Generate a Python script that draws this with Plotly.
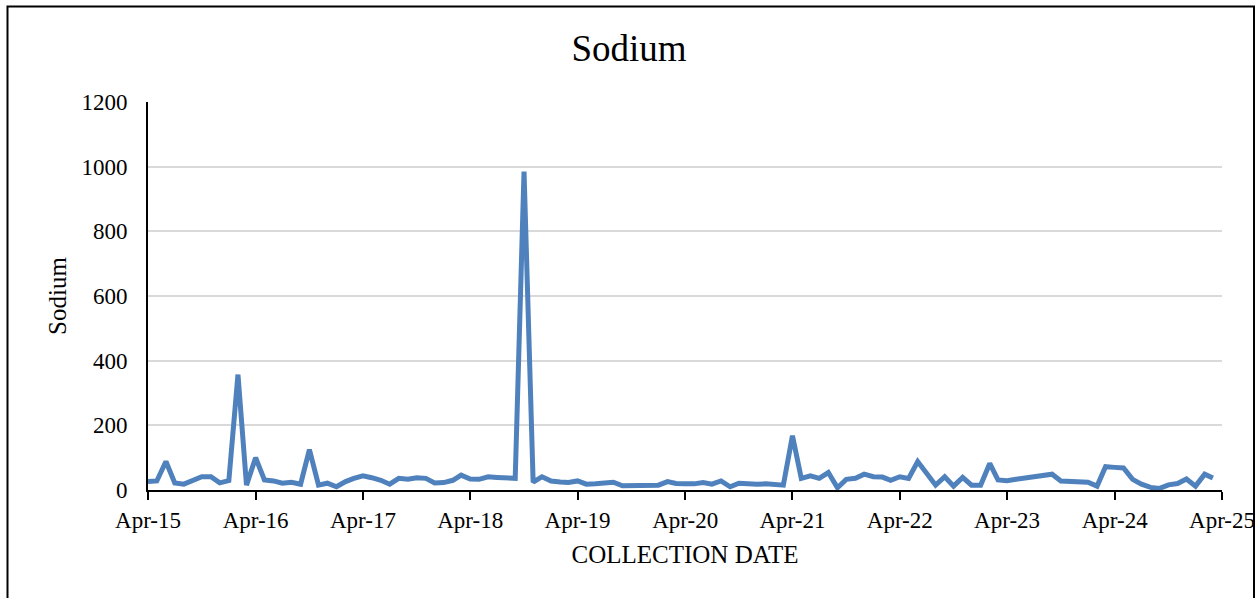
import pandas as pd
import plotly.graph_objects as go

dates = pd.date_range("2015-04-01", periods=120, freq="MS")
sodium = [
    26, 28, 88, 22, 18, 31, 41, 41, 22, 29,
    357, 15, 100, 31, 28, 21, 24, 18, 125, 15,
    21, 10, 26, 36, 44, 38, 30, 18, 36, 33,
    38, 36, 22, 23, 30, 46, 34, 33, 41, 39,
    37, 36, 985, 24, 41, 28, 25, 23, 28, 18,
    19, 20, 24, 13, 14, 15, 15, 15, 26, 20,
    19, 19, 23, 18, 28, 10, 21, 18, 18, 19,
    17, 15, 168, 36, 44, 36, 54, 7, 33, 36,
    49, 41, 40, 30, 41, 36, 88, 52, 15, 41,
    12, 39, 15, 15, 82, 31, 29, 33, 38, 42,
    45, 49, 28, 26, 26, 24, 12, 72, 70, 68,
    33, 18, 8, 5, 16, 20, 34, 12, 49, 37,
]
tick_dates = pd.date_range("2015-04-01", "2025-04-01", freq="12MS")
y_ticks = [0, 200, 400, 600, 800, 1000, 1200]

FONT = "Liberation Serif"

fig = go.Figure()
fig.add_trace(go.Scatter(
    x=dates, y=sodium, mode="lines",
    line=dict(color="#4F81BD", width=5),
    name="Sodium", showlegend=False,
))

fig.update_layout(
    width=1258, height=598,
    margin=dict(l=148, r=36, t=102, b=108, autoexpand=False),
    paper_bgcolor="white", plot_bgcolor="white",
    font=dict(family=FONT, color="black", size=23),
    title=dict(text="Sodium", x=0.5, xanchor="center", y=1 - 48 / 598,
               yanchor="middle", font=dict(family=FONT, size=37, color="black")),
    xaxis=dict(
        type="date",
        range=[tick_dates[0], tick_dates[-1]],
        tickvals=tick_dates, tickformat="%b-%y",
        showgrid=False, showline=True, linecolor="black", linewidth=2,
        ticks="outside", ticklen=8, tickwidth=2, tickcolor="black",
        ticklabelstandoff=0, automargin=False,
        title=dict(text="COLLECTION DATE", font=dict(family=FONT, size=25), standoff=14),
        zeroline=False,
    ),
    yaxis=dict(
        range=[0, 1200], tickvals=y_ticks,
        showgrid=True, gridcolor="#D9D9D9", gridwidth=2,
        showline=True, linecolor="black", linewidth=2,
        ticks="", ticklabelstandoff=14, automargin=False,
        title=dict(text="Sodium", font=dict(family=FONT, size=25), standoff=8),
        zeroline=False,
    ),
    shapes=[dict(
        type="rect", xref="paper", yref="paper",
        x0=(7.5 - 148) / 1074, x1=(1254 - 148) / 1074,
        y0=(490 - 620) / 388, y1=(490 - 6.5) / 388,
        line=dict(color="black", width=2), fillcolor="rgba(0,0,0,0)", layer="below",
    )],
)

fig.write_html("out.html")
